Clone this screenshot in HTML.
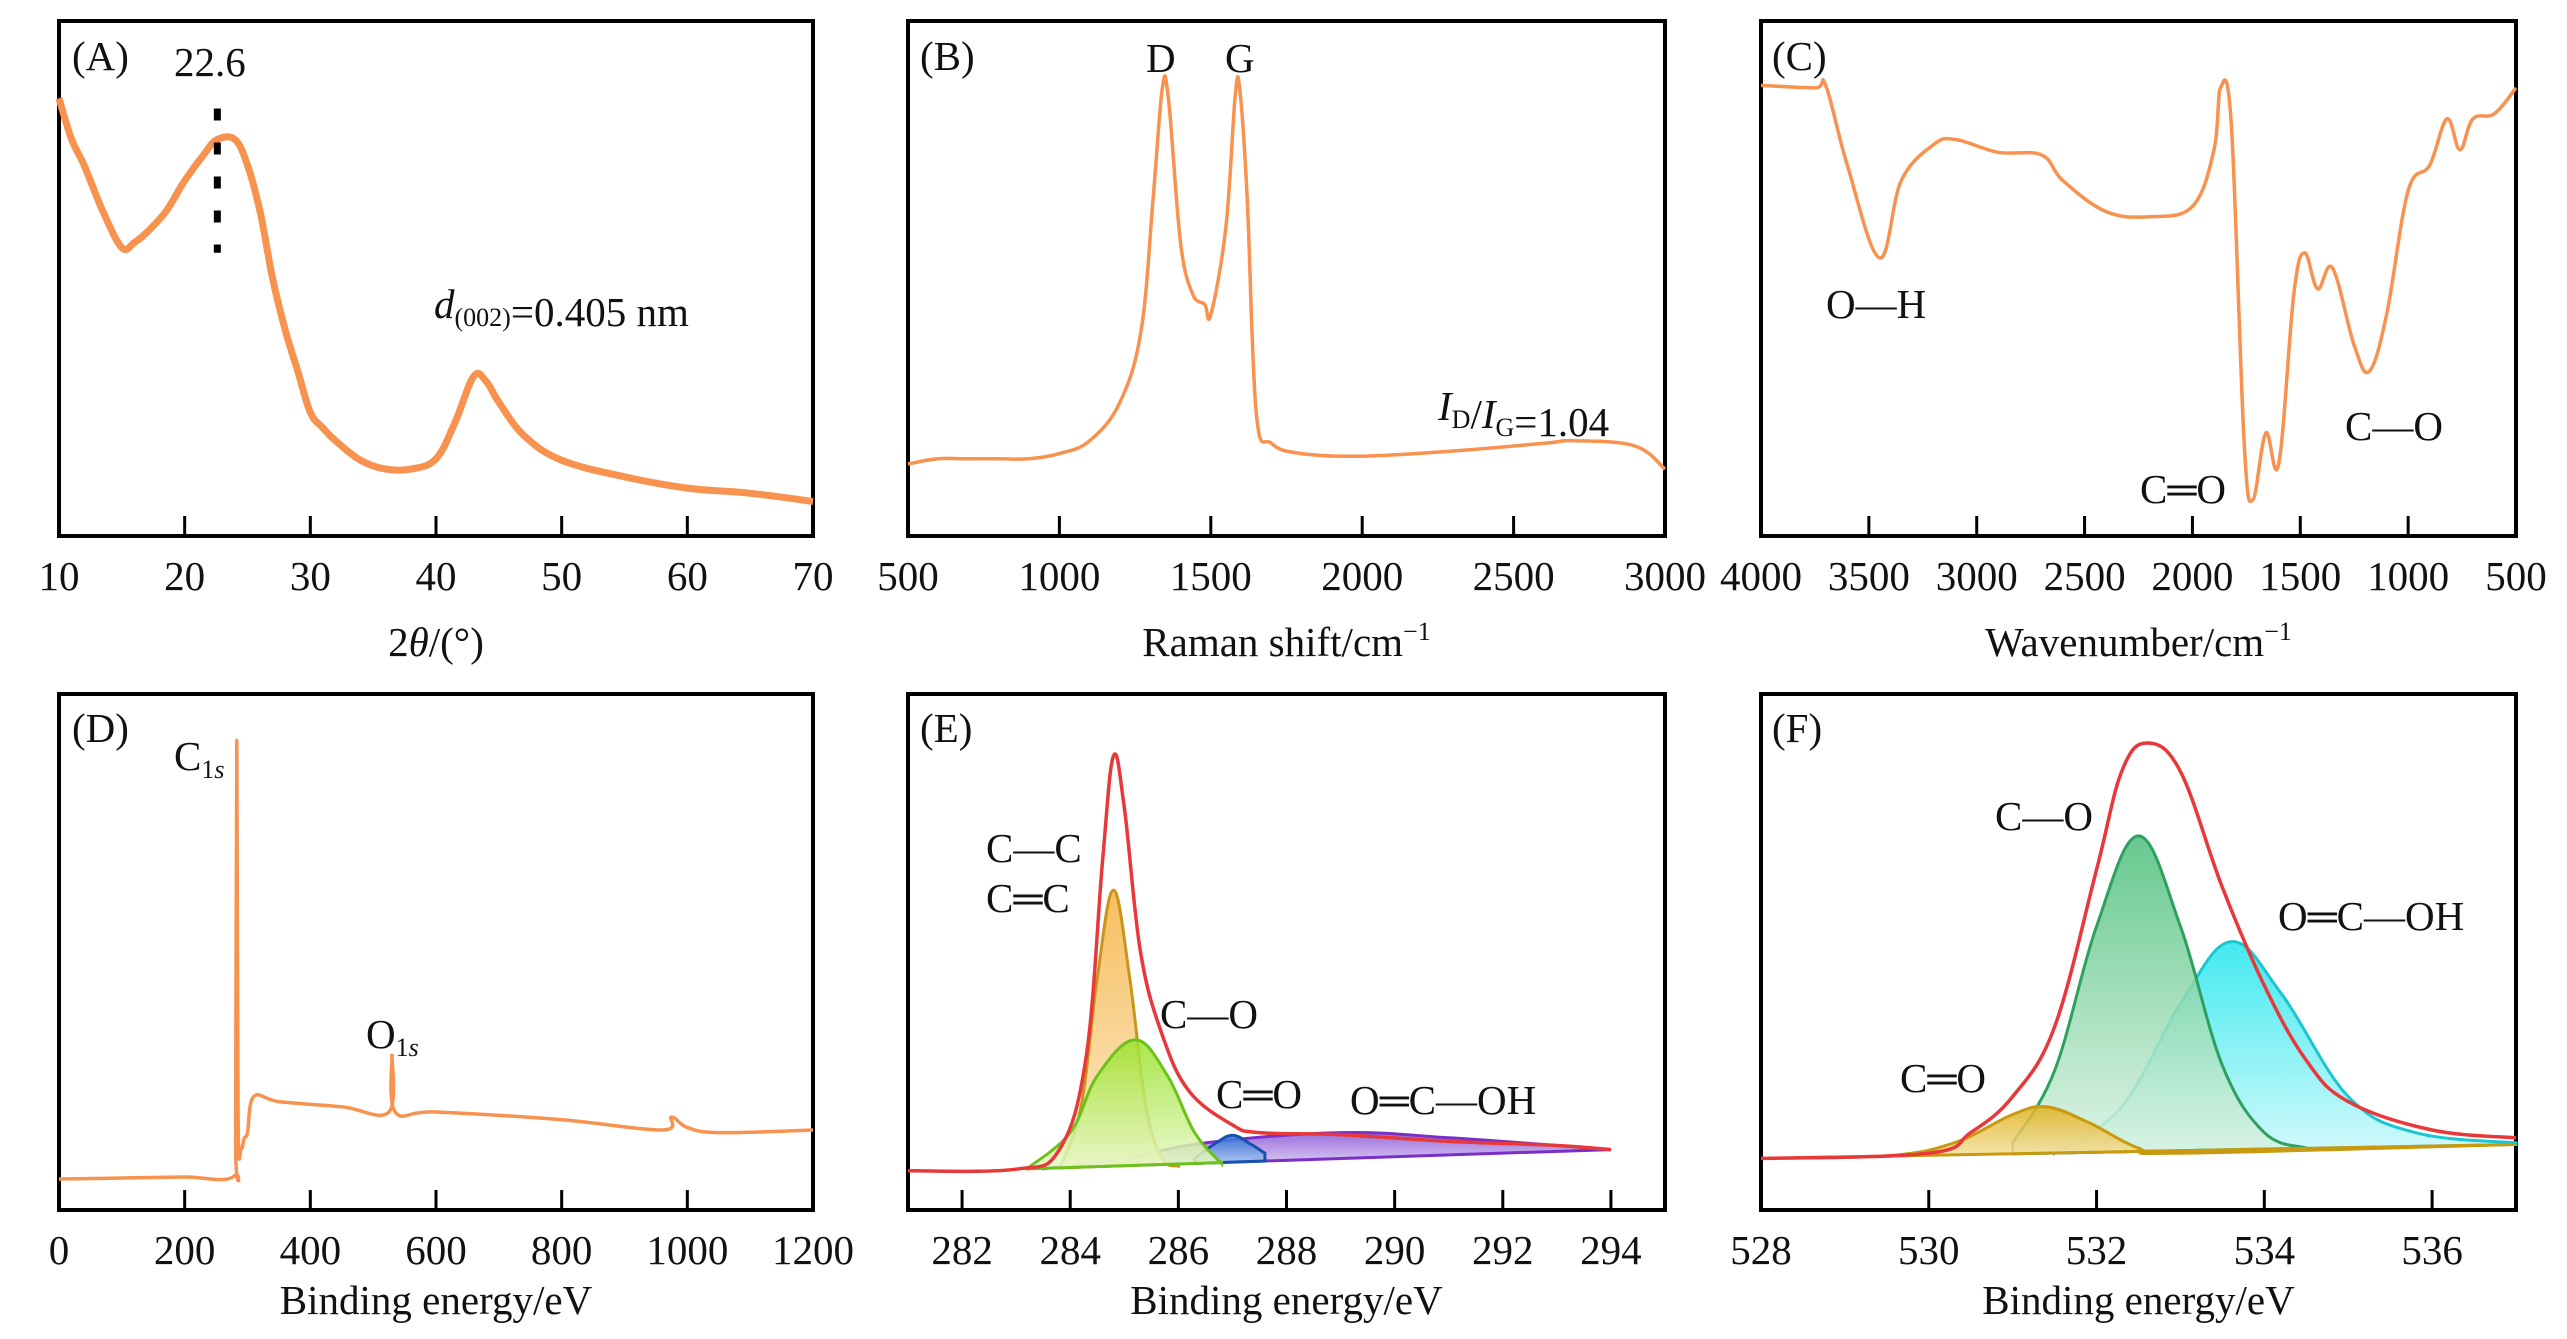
<!DOCTYPE html>
<html><head><meta charset="utf-8"><style>
html,body{margin:0;padding:0;background:#fff;}
svg{display:block;font-family:"Liberation Serif",serif;}
</style></head><body>
<svg id="fig" width="2567" height="1339" viewBox="0 0 2567 1339" xmlns="http://www.w3.org/2000/svg">
<defs>
<linearGradient id="gOr" x1="0" y1="0" x2="0" y2="1"><stop offset="0" stop-color="#f5b342"/><stop offset="1" stop-color="#fbe6c0"/></linearGradient>
<linearGradient id="gGr" x1="0" y1="0" x2="0" y2="1"><stop offset="0" stop-color="#9be22a"/><stop offset="1" stop-color="#e6f8c8"/></linearGradient>
<linearGradient id="gBl" x1="0" y1="0" x2="0" y2="1"><stop offset="0" stop-color="#2a6fd6"/><stop offset="1" stop-color="#a9c4f0"/></linearGradient>
<linearGradient id="gPu" x1="0" y1="0" x2="0" y2="1"><stop offset="0" stop-color="#8a55d6"/><stop offset="1" stop-color="#ddd0f4"/></linearGradient>
<linearGradient id="gYe" x1="0" y1="0" x2="0" y2="1"><stop offset="0" stop-color="#e0b020"/><stop offset="1" stop-color="#f5e3a0"/></linearGradient>
<linearGradient id="gSe" x1="0" y1="0" x2="0" y2="1"><stop offset="0" stop-color="#4cbf7a"/><stop offset="1" stop-color="#d9f2e2"/></linearGradient>
<linearGradient id="gCy" x1="0" y1="0" x2="0" y2="1"><stop offset="0" stop-color="#22e6ee"/><stop offset="1" stop-color="#c9f8fa"/></linearGradient>
</defs>
</svg>
<script>
// ---- data (x, normalized intensity 0..1 of panel height) ----
const xrdX=[10,11,12,13.5,15,16,17,18.5,20,21.5,22.6,24,25,26,27,28,29,30,31,32,34,36,38,40,41.5,43,44,45,47,50,55,60,65,70];
const xrdY=[0.85,0.77,0.72,0.63,0.56,0.57,0.59,0.63,0.69,0.74,0.77,0.77,0.72,0.63,0.50,0.40,0.32,0.24,0.21,0.185,0.147,0.13,0.13,0.15,0.22,0.31,0.30,0.26,0.195,0.147,0.115,0.093,0.083,0.067];
const ramX=[500,600,700,800,900,1000,1100,1200,1270,1310,1340,1360,1400,1440,1480,1500,1550,1580,1595,1620,1650,1700,1800,2000,2300,2600,2700,2900,3000];
const ramY=[0.14,0.15,0.15,0.15,0.15,0.16,0.185,0.26,0.40,0.66,0.87,0.85,0.57,0.47,0.45,0.43,0.60,0.85,0.87,0.66,0.24,0.18,0.16,0.155,0.165,0.18,0.185,0.175,0.13];
const irX=[4000,3750,3700,3600,3450,3350,3200,3100,2900,2700,2600,2400,2200,2000,1900,1870,1820,1760,1720,1660,1600,1530,1480,1420,1350,1250,1180,1100,1000,900,820,760,700,600,500];
const irY=[0.875,0.87,0.875,0.72,0.54,0.69,0.76,0.77,0.745,0.74,0.69,0.63,0.62,0.64,0.75,0.87,0.80,0.18,0.07,0.20,0.14,0.47,0.55,0.48,0.52,0.37,0.32,0.43,0.67,0.72,0.81,0.75,0.81,0.82,0.87];
const xpsX=[0,100,200,279,281,283,285,290,295,300,310,350,450,525,530,535,600,800,960,975,1000,1050,1200];
const xpsY=[0.06,0.062,0.064,0.066,0.15,0.91,0.18,0.12,0.14,0.15,0.22,0.21,0.20,0.19,0.30,0.19,0.19,0.175,0.155,0.18,0.16,0.15,0.155];
const c1sEnvX=[281,283,283.8,284.3,284.6,284.8,285.0,285.3,285.7,286.2,287,287.5,289,291,293,294];
const c1sEnvY=[0.076,0.079,0.117,0.30,0.68,0.88,0.78,0.50,0.34,0.23,0.165,0.15,0.146,0.133,0.125,0.117];
const c1sCCX=[283.8,284.2,284.5,284.8,285.1,285.4,285.7,286];
const c1sCCY=[0.08,0.2,0.45,0.62,0.45,0.2,0.1,0.085];
const c1sCOX=[283.2,284,284.5,285.2,285.8,286.3,286.8];
const c1sCOY=[0.08,0.15,0.26,0.33,0.26,0.15,0.09];
const c1sCdOX=[286.3,286.7,287.0,287.3,287.6];
const c1sCdOY=[0.10,0.13,0.145,0.13,0.11];
const c1sCOOHX=[283.5,285,286.5,289,291,293,294];
const c1sCOOHY=[0.08,0.10,0.13,0.15,0.14,0.125,0.117];
const c1sBaseX=[283,294];const c1sBaseY=[0.079,0.117];
const o1sEnvX=[528,530,530.5,531,531.5,532,532.3,532.6,533,533.5,534,534.5,535,536,537];
const o1sEnvY=[0.10,0.11,0.15,0.22,0.355,0.66,0.85,0.905,0.85,0.625,0.435,0.29,0.21,0.155,0.14];
const o1sCdOX=[528,529.5,530.3,531,531.4,531.9,532.5,533,537];
const o1sCdOY=[0.10,0.105,0.13,0.185,0.2,0.17,0.12,0.11,0.127];
const o1sCOX=[531,531.5,532,532.5,533,533.5,534,534.5];
const o1sCOY=[0.13,0.27,0.55,0.725,0.55,0.28,0.15,0.12];
const o1sCOOHX=[531.5,532.3,533,533.6,534.2,535,535.8,537];
const o1sCOOHY=[0.11,0.2,0.4,0.52,0.42,0.22,0.15,0.13];
const o1sBaseX=[528,537];const o1sBaseY=[0.10,0.127];
const tickA=[10,20,30,40,50,60,70],tickB=[500,1000,1500,2000,2500,3000],tickC=[4000,3500,3000,2500,2000,1500,1000,500];
const tickD=[0,200,400,600,800,1000,1200],tickE=[282,284,286,288,290,292,294],tickF=[528,530,532,534,536];

const NS="http://www.w3.org/2000/svg";const svg=document.getElementById('fig');
function el(t,a,p){const e=document.createElementNS(NS,t);for(const k in a)e.setAttribute(k,a[k]);(p||svg).appendChild(e);return e;}
const OR="#f7924f";
function panel(name,x0,x1,y0,y1,dmin,dmax,ticks,innerTicks,labOff,xlabelHTML){
  const g=el('g',{});
  
  
  const sx=v=>x0+(v-dmin)/(dmax-dmin)*(x1-x0);
  const sy=f=>y1-f*(y1-y0);
  const frame=el('rect',{x:x0,y:y0,width:x1-x0,height:y1-y0,fill:'none',stroke:'#000','stroke-width':4},g);
  
  
  ticks.forEach(t=>{
    const X=sx(t);
    if(innerTicks.includes(t)){const tk=el('line',{x1:X,x2:X,y1:y1,y2:y1-20,stroke:'#000','stroke-width':3},g);
      
      }
    const tl=el('text',{x:X,y:y1+54,'font-size':41,'text-anchor':'middle',fill:'#111'},g);tl.textContent=t;
    
    
  });
  const xl=el('text',{x:(x0+x1)/2,y:y1+labOff,'font-size':41,'text-anchor':'middle',fill:'#111'},g);
  xl.innerHTML=xlabelHTML;
  
  
  return {g,sx,sy};
}
function pxy(P,X,Y){return X.map((v,i)=>[P.sx(v),P.sy(Y[i])]);}
function smooth(p){
  let d='M'+p[0][0].toFixed(1)+','+p[0][1].toFixed(1);
  for(let i=0;i<p.length-1;i++){
    const a=p[Math.max(0,i-1)],b=p[i],c=p[i+1],e=p[Math.min(p.length-1,i+2)];
    const t=0.18;
    const c1=[b[0]+(c[0]-a[0])*t,b[1]+(c[1]-a[1])*t];
    const c2=[c[0]-(e[0]-b[0])*t,c[1]-(e[1]-b[1])*t];
    d+=' C'+c1[0].toFixed(1)+','+c1[1].toFixed(1)+' '+c2[0].toFixed(1)+','+c2[1].toFixed(1)+' '+c[0].toFixed(1)+','+c[1].toFixed(1);
  }
  return d;
}
function line(P,X,Y,color,w,name){const e=el('path',{d:smooth(pxy(P,X,Y)),fill:'none',stroke:color,'stroke-width':w,'stroke-linejoin':'round'},P.g);
  
  return e;}
function area(P,X,Y,BX,BY,fill,stroke,name){
  const bl=v=>BY[0]+(v-BX[0])/(BX[1]-BX[0])*(BY[1]-BY[0]);
  const xe=X[X.length-1],xs=X[0];
  const d=smooth(pxy(P,X,Y))+' L'+P.sx(xe).toFixed(1)+','+P.sy(bl(xe)).toFixed(1)+' L'+P.sx(xs).toFixed(1)+','+P.sy(bl(xs)).toFixed(1)+' Z';
  const e=el('path',{d:d,fill:fill,stroke:stroke,'stroke-width':3,'fill-opacity':0.85},P.g);
  
  return e;}
function txt(P,x,y,html,name,size){const t=el('text',{x:x,y:y,'font-size':size||41,fill:'#111'},P.g);t.innerHTML=html;
  
  return t;}
const sub=(s)=>`<tspan font-size="26" dy="8">${s}</tspan><tspan dy="-8"></tspan>`;

// A
const A=panel('panel-a-xrd',59,813,21,536,10,70,tickA,[20,30,40,50,60],120,'2<tspan font-style="italic">θ</tspan>/(°)');
line(A,xrdX,xrdY,OR,7,'xrd-curve');
const dl=el('line',{x1:A.sx(22.6),x2:A.sx(22.6),y1:A.sy(0.83),y2:A.sy(0.55),stroke:'#000','stroke-width':7,'stroke-dasharray':'12 22'},A.g);


txt(A,72,70,'(A)','panel-label-a');
txt(A,174,76,'22.6','peak-label-22-6');
txt(A,434,318,'<tspan font-style="italic">d</tspan>'+sub('(002)')+'=0.405 nm','d-spacing-label');
// B
const B=panel('panel-b-raman',908,1665,21,536,500,3000,tickB,[1000,1500,2000,2500],120,'Raman shift/cm<tspan font-size="26" dy="-16">−1</tspan>');
line(B,ramX,ramY,OR,3.5,'raman-curve');
txt(B,920,70,'(B)','panel-label-b');
txt(B,1146,72,'D','d-band-label');
txt(B,1225,72,'G','g-band-label');
txt(B,1438,420,'<tspan font-style="italic">I</tspan>'+sub('D')+'/<tspan font-style="italic">I</tspan>'+sub('G')+'=1.04','id-ig-ratio-label');
// C
const C=panel('panel-c-ftir',1761,2516,21,536,4000,500,tickC,[3500,3000,2500,2000,1500,1000],120,'Wavenumber/cm<tspan font-size="26" dy="-16">−1</tspan>');
line(C,irX,irY,OR,3.5,'ftir-curve');
txt(C,1772,70,'(C)','panel-label-c');
txt(C,1826,318,'O—H','oh-label');
txt(C,2140,503,'C═O','co-double-label');
txt(C,2345,440,'C—O','co-single-label');
// D
const D=panel('panel-d-xps-survey',59,813,694,1210,0,1200,tickD,[200,400,600,800,1000],104,'Binding energy/eV');
line(D,xpsX,xpsY,OR,3.5,'xps-survey-curve');
txt(D,72,742,'(D)','panel-label-d');
txt(D,174,770,'C'+sub('1<tspan font-style="italic">s</tspan>'),'c1s-label');
txt(D,366,1048,'O'+sub('1<tspan font-style="italic">s</tspan>'),'o1s-label');
// E
const E=panel('panel-e-c1s',908,1665,694,1210,281,295,tickE,tickE,104,'Binding energy/eV');
area(E,c1sCOOHX,c1sCOOHY,c1sBaseX,c1sBaseY,'url(#gPu)','#7a2fc8','c1s-cooh-peak');
area(E,c1sCdOX,c1sCdOY,c1sBaseX,c1sBaseY,'url(#gBl)','#1a50b0','c1s-c-double-o-peak');
area(E,c1sCCX,c1sCCY,c1sBaseX,c1sBaseY,'url(#gOr)','#c9951a','c1s-cc-peak');
area(E,c1sCOX,c1sCOY,c1sBaseX,c1sBaseY,'url(#gGr)','#6cc21a','c1s-co-peak');
line(E,c1sEnvX,c1sEnvY,'#e8383a',3.5,'c1s-envelope');
txt(E,920,742,'(E)','panel-label-e');
txt(E,986,862,'C—C','cc-label');
txt(E,986,912,'C═C','c-double-c-label');
txt(E,1160,1028,'C—O','e-co-label');
txt(E,1216,1108,'C═O','e-c-double-o-label');
txt(E,1350,1114,'O═C—OH','e-cooh-label');
// F
const F=panel('panel-f-o1s',1761,2516,694,1210,528,537,tickF,[530,532,534,536],104,'Binding energy/eV');
area(F,o1sCOOHX,o1sCOOHY,o1sBaseX,o1sBaseY,'url(#gCy)','#1bc6d0','o1s-cooh-peak');
area(F,o1sCOX,o1sCOY,o1sBaseX,o1sBaseY,'url(#gSe)','#2fa060','o1s-co-peak');
area(F,o1sCdOX,o1sCdOY,o1sBaseX,o1sBaseY,'url(#gYe)','#c99a10','o1s-c-double-o-peak');
line(F,o1sEnvX,o1sEnvY,'#e8383a',3.5,'o1s-envelope');
txt(F,1772,742,'(F)','panel-label-f');
txt(F,1995,830,'C—O','f-co-label');
txt(F,2278,930,'O═C—OH','f-cooh-label');
txt(F,1900,1092,'C═O','f-c-double-o-label');
</script>
</body></html>
